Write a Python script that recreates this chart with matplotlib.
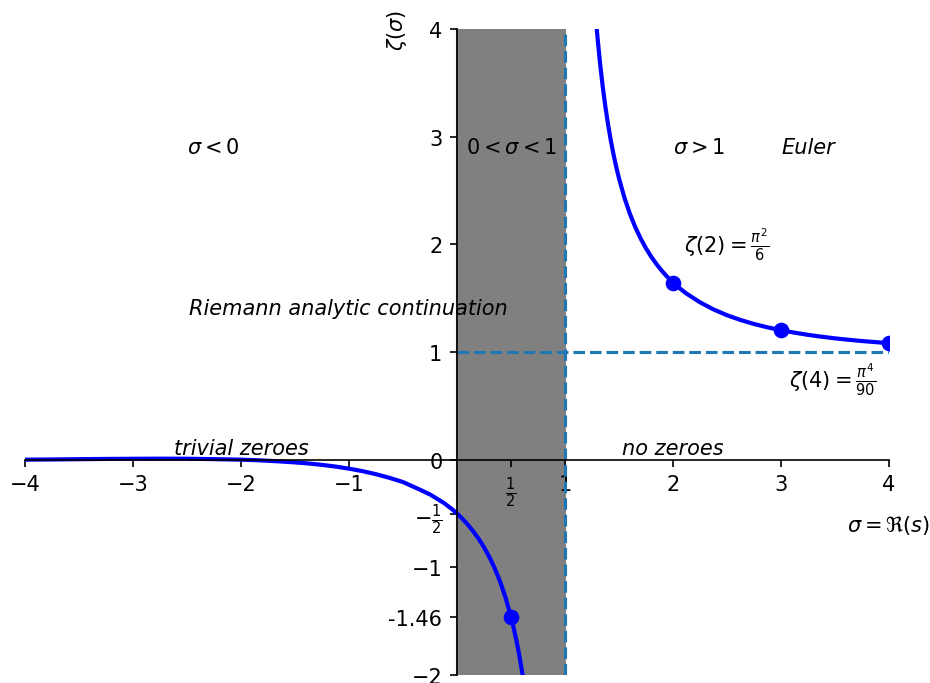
import matplotlib
matplotlib.use("Agg")
import matplotlib.pyplot as plt

# Left branch of zeta(sigma) on the real line (sigma < 1)
sigma_left = [-4.0, -3.75, -3.5, -3.25, -3.0, -2.75, -2.5, -2.25, -2.0, -1.875, -1.75, -1.625,
              -1.5, -1.375, -1.25, -1.125, -1.0, -0.875, -0.75, -0.625, -0.5, -0.375, -0.25,
              -0.125, -0.05, 0.0, 0.05, 0.1, 0.15, 0.2, 0.25, 0.3, 0.35, 0.4, 0.45, 0.5,
              0.525, 0.55, 0.575, 0.6, 0.6125, 0.625]
zeta_left = [0.0, 0.002, 0.0044, 0.0068, 0.0083, 0.0092, 0.0085, 0.005, 0.0, -0.0044, -0.0102, -0.0172,
             -0.0255, -0.0354, -0.0482, -0.0642, -0.0833, -0.1066, -0.135, -0.1689, -0.2079, -0.264, -0.323,
             -0.3995, -0.4565, -0.5, -0.5493, -0.603, -0.6649, -0.7339, -0.8132, -0.9046, -1.0107, -1.135, -1.2825, -1.4604,
             -1.5638, -1.6788, -1.8075, -1.9537, -2.0323, -2.1175]

# Right branch (sigma > 1)
sigma_right = [1.29, 1.3, 1.325, 1.35, 1.375, 1.4, 1.425, 1.45, 1.475, 1.5, 1.55, 1.6, 1.65,
               1.7, 1.75, 1.8, 1.85, 1.9, 1.95, 2.0, 2.05, 2.125, 2.25, 2.375, 2.5, 2.625, 2.75,
               2.875, 3.0, 3.125, 3.25, 3.375, 3.5, 3.625, 3.75, 3.875, 4.0]
zeta_right = [4.0462, 3.9319, 3.6773, 3.4592, 3.2705, 3.1055, 2.9601, 2.8312, 2.716, 2.6124, 2.434, 2.286, 2.1611,
              2.0545, 1.9625, 1.8826, 1.8123, 1.7501, 1.6949, 1.6449, 1.6013, 1.5425, 1.4616, 1.3955, 1.3415, 1.2975, 1.2602,
              1.229, 1.2021, 1.1795, 1.1592, 1.1421, 1.1267, 1.1137, 1.1018, 1.0917, 1.0823]

# Highlighted points
point_x = [0.5, 2.0, 3.0, 4.0]
point_y = [-1.4604, 1.6449, 1.2021, 1.0823]

xtick_vals = [-4, -3, -2, -1, 0.5, 1, 2, 3, 4]
xtick_labels = ['\u22124', '\u22123', '\u22122', '\u22121', r'$\frac{1}{2}$', '1', '2', '3', '4']
ytick_vals = [-2, -1.46, -1, -0.5, 0, 1, 2, 3, 4]
ytick_labels = ['\u22122', '-1.46', '\u22121', r'$-\frac{1}{2}$', '0', '1', '2', '3', '4']

DPI = 150
fig = plt.figure(figsize=(930 / DPI, 684 / DPI), dpi=DPI)
ax = fig.add_axes([25 / 930, 8 / 684, 864 / 930, 646 / 684])

ax.axvspan(0, 1, color='gray')
ax.axvline(1, color='tab:blue', linestyle='--', lw=1.5)
ax.hlines(1, 0, 4, color='tab:blue', linestyle='--', lw=1.5)

ax.plot(sigma_left, zeta_left, color='blue', lw=2)
ax.plot(sigma_right, zeta_right, color='blue', lw=2)
ax.plot(point_x, point_y, 'o', color='blue', ms=6.5)

ax.set_xlim(-4, 4)
ax.set_ylim(-2, 4)

ax.spines['left'].set_position(('data', 0))
ax.spines['bottom'].set_position(('data', 0))
ax.spines['top'].set_visible(False)
ax.spines['right'].set_visible(False)

ax.set_xticks(xtick_vals)
ax.set_xticklabels(xtick_labels)
ax.set_yticks(ytick_vals)
ax.set_yticklabels(ytick_labels)

ax.set_xlabel(r'$\sigma = \Re(s)$')
ax.xaxis.set_label_coords(1.0, 0.25)
ax.set_ylabel(r'$\zeta(\sigma)$')
ax.yaxis.set_label_coords(0.445, 1.0)

ax.text(-2.5, 2.85, r'$\sigma < 0$')
ax.text(0.08, 2.85, r'$0 < \sigma < 1$')
ax.text(2.0, 2.85, r'$\sigma > 1$')
ax.text(3.0, 2.85, 'Euler', style='italic')
ax.text(-2.48, 1.35, 'Riemann analytic continuation', style='italic')
ax.text(-2.62, 0.05, 'trivial zeroes', style='italic')
ax.text(1.53, 0.05, 'no zeroes', style='italic')
ax.text(2.1, 1.93, r'$\zeta(2) = \frac{\pi^2}{6}$')
ax.text(3.07, 0.68, r'$\zeta(4) = \frac{\pi^4}{90}$')

fig.savefig('out.png', dpi=DPI)
